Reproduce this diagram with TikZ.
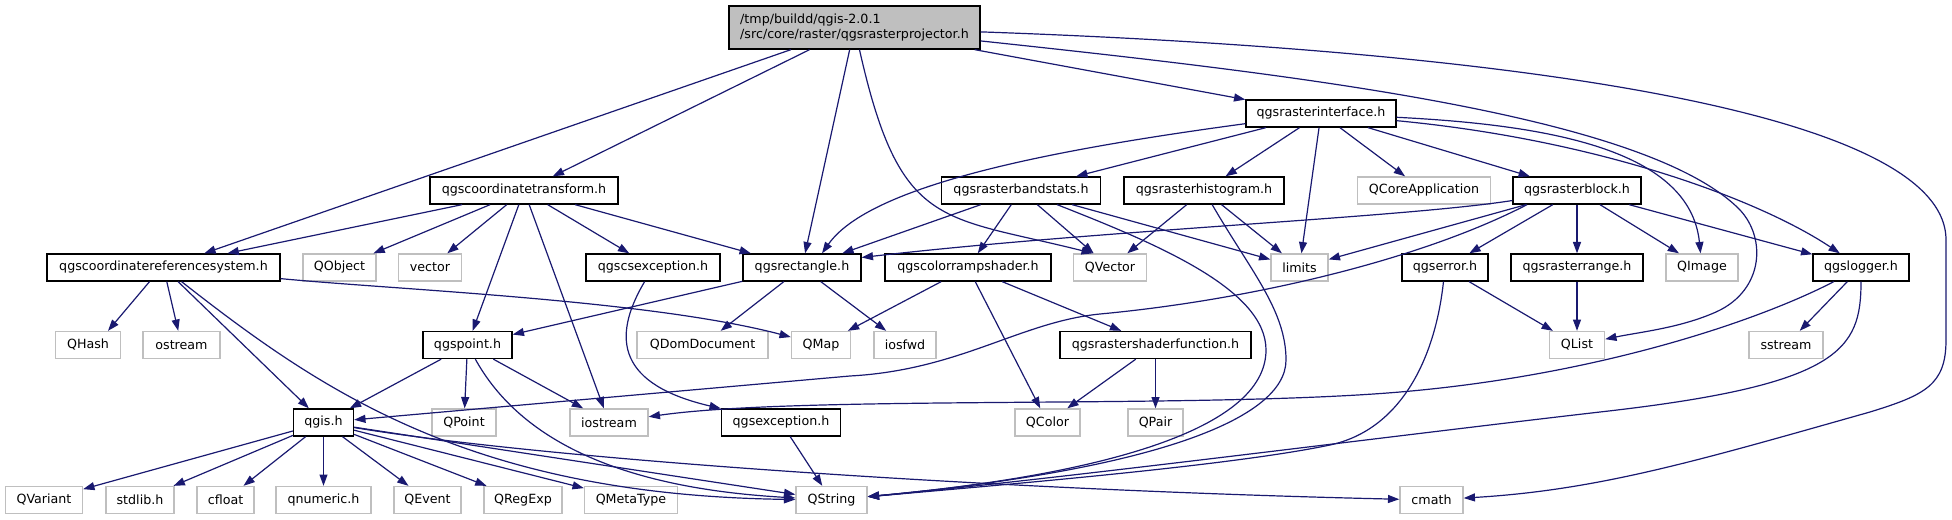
\documentclass[tikz,border=0pt]{standalone}
\usepackage{fontspec}
\setmainfont{DejaVu Sans}
\usetikzlibrary{arrows.meta,calc}
\definecolor{edgeblue}{HTML}{191970}
\definecolor{boxgray}{HTML}{BFBFBF}
\begin{document}
\begin{tikzpicture}[x=0.75pt,y=-0.75pt,
  every node/.style={font=\fontsize{9.5pt}{11.25pt}\selectfont, inner sep=0pt, minimum height=20.25pt, line width=1pt},
  blk/.style={draw=black, fill=white},
  gry/.style={draw=boxgray, fill=white},
  bw/.style={minimum width=#1*0.75pt},
  dep/.style={draw=edgeblue, line width=0.9pt, -{Triangle[length=8.5pt,width=6pt]}}
]
\useasboundingbox (0,0) rectangle (1952,520);

% rank 0
\node[blk, fill=boxgray, bw=251, minimum height=32.25pt, align=left] (root) at (854.5,27.5) {/tmp/buildd/qgis-2.0.1\\/src/core/raster/qgsrasterprojector.h};
% rank 1
\node[blk, bw=150] (rif) at (1321,113.5) {qgsrasterinterface.h};
% rank 2
\node[blk, bw=188] (ct) at (524,190.5) {qgscoordinatetransform.h};
\node[blk, bw=158.5] (bs) at (1021,190.5) {qgsrasterbandstats.h};
\node[blk, bw=160] (hist) at (1204,190.5) {qgsrasterhistogram.h};
\node[gry, bw=133] (QCore) at (1424,190.5) {QCoreApplication};
\node[blk, bw=128] (rblock) at (1577,190.5) {qgsrasterblock.h};
% rank 3
\node[blk, bw=233] (crs) at (163.5,267.5) {qgscoordinatereferencesystem.h};
\node[gry, bw=73] (QObject) at (339.5,267.5) {QObject};
\node[gry, bw=63] (vector) at (430,267.5) {vector};
\node[blk, bw=134] (csx) at (653,267.5) {qgscsexception.h};
\node[blk, bw=118] (rect) at (802,267.5) {qgsrectangle.h};
\node[blk, bw=166] (cramp) at (968,267.5) {qgscolorrampshader.h};
\node[gry, bw=73] (QVector) at (1110,267.5) {QVector};
\node[gry, bw=57] (limits) at (1299.5,267.5) {limits};
\node[blk, bw=86] (qerr) at (1445,267.5) {qgserror.h};
\node[blk, bw=132] (rrange) at (1577,267.5) {qgsrasterrange.h};
\node[gry, bw=72] (QImage) at (1702,267.5) {QImage};
\node[blk, bw=96] (logger) at (1861,267.5) {qgslogger.h};
% rank 4
\node[gry, bw=65] (QHash) at (88,345) {QHash};
\node[gry, bw=77] (ostream) at (181.5,345) {ostream};
\node[blk, bw=89] (qgspoint) at (467.5,345) {qgspoint.h};
\node[gry, bw=131] (QDom) at (702.5,345) {QDomDocument};
\node[gry, bw=59] (QMap) at (821,345) {QMap};
\node[gry, bw=62] (iosfwd) at (905,345) {iosfwd};
\node[blk, bw=191] (shader) at (1155.5,345) {qgsrastershaderfunction.h};
\node[gry, bw=55] (QList) at (1577,345) {QList};
\node[gry, bw=74] (sstream) at (1786,345) {sstream};
% rank 5
\node[blk, bw=60] (qgis) at (323.5,422.5) {qgis.h};
\node[gry, bw=64] (QPoint) at (464,422.5) {QPoint};
\node[gry, bw=78] (iostream) at (609,422.5) {iostream};
\node[blk, bw=119] (qexc) at (781,422.5) {qgsexception.h};
\node[gry, bw=65] (QColor) at (1047.5,422.5) {QColor};
\node[gry, bw=55] (QPair) at (1155.5,422.5) {QPair};
% rank 6
\node[gry, bw=77] (QVariant) at (44,500) {QVariant};
\node[gry, bw=68] (stdlib) at (140,500) {stdlib.h};
\node[gry, bw=57] (cfloat) at (225.6,500) {cfloat};
\node[gry, bw=95] (qnumeric) at (323.5,500) {qnumeric.h};
\node[gry, bw=67] (QEvent) at (427.5,500) {QEvent};
\node[gry, bw=78] (QRegExp) at (523,500) {QRegExp};
\node[gry, bw=93] (QMetaType) at (631,500) {QMetaType};
\node[gry, bw=71] (QString) at (831.5,500) {QString};
\node[gry, bw=63] (cmath) at (1431.5,500) {cmath};

% root
\draw[dep] (root) -- (rif);
\draw[dep] (root) -- (ct);
\draw[dep] (root) -- (crs);
\draw[dep] (root) -- (rect);
\draw[dep] (root) .. controls (900,230) and (940,215) .. ($(QVector.north west)+(20,0)$);
\draw[dep] (root) .. controls (1300,75) and (1640,115) .. (1737,207) .. controls (1767,235) and (1765,290) .. (1716,312) .. controls (1680,328) and (1640,332) .. (QList);
\draw[dep] (root) .. controls (1500,50) and (1946,110) .. (1946,240) -- (1946,340) .. controls (1946,385) and (1925,395) .. (1870,412) .. controls (1700,460) and (1600,490) .. (cmath);

% qgsrasterinterface.h
\draw[dep] (rif) .. controls (1050,150) and (870,185) .. ($(rect.north)+(20,0)$);
\draw[dep] (rif) -- (bs);
\draw[dep] (rif) -- (hist);
\draw[dep] (rif) -- (limits);
\draw[dep] (rif) -- (QCore);
\draw[dep] (rif) -- (rblock);
\draw[dep] (rif) .. controls (1550,125) and (1690,150) .. (QImage);
\draw[dep] (rif) .. controls (1600,140) and (1760,200) .. (logger);

% qgscoordinatetransform.h
\draw[dep] ($(ct.south)+(-62,0)$) -- ($(crs.north)+(64,0)$);
\draw[dep] (ct) -- (QObject);
\draw[dep] (ct) -- (vector);
\draw[dep] (ct) -- (qgspoint);
\draw[dep] (ct) -- (iostream);
\draw[dep] (ct) -- (csx);
\draw[dep] (ct) -- (rect);

% qgscoordinatereferencesystem.h
\draw[dep] ($(crs.south)+(-14,0)$) -- ($(QHash.north)+(20,0)$);
\draw[dep] (crs) -- (ostream);
\draw[dep] (crs) -- (qgis);
\draw[dep] (crs) .. controls (320,390) and (470,495) .. (QString);
\draw[dep] (crs) .. controls (400,290) and (650,300) .. (QMap);

% qgscsexception.h
\draw[dep] (csx) .. controls (610,340) and (620,385) .. (qexc);

% qgsrectangle.h
\draw[dep] (rect) -- (qgspoint);
\draw[dep] (rect) -- (QDom);
\draw[dep] (rect) -- (iosfwd);

% qgspoint.h
\draw[dep] (qgspoint) -- (qgis);
\draw[dep] (qgspoint) -- (QPoint);
\draw[dep] (qgspoint) -- (iostream);
\draw[dep] (qgspoint) .. controls (520,440) and (620,488) .. (QString);

% qgis.h
\draw[dep] (qgis) -- (QVariant);
\draw[dep] (qgis) -- (stdlib);
\draw[dep] (qgis) -- (cfloat);
\draw[dep] (qgis) -- (qnumeric);
\draw[dep] (qgis) -- (QEvent);
\draw[dep] (qgis) -- (QRegExp);
\draw[dep] (qgis) -- (QMetaType);
\draw[dep] (qgis) -- (QString);
\draw[dep] (qgis) .. controls (550,460) and (1000,490) .. (cmath);

% qgsexception.h
\draw[dep] (qexc) -- (QString);

% qgsrasterbandstats.h
\draw[dep] (bs) -- (rect);
\draw[dep] (bs) -- (cramp);
\draw[dep] (bs) -- (QVector);
\draw[dep] (bs) -- (limits);
\draw[dep] (bs) .. controls (1160,245) and (1266,290) .. (1266,350) .. controls (1266,430) and (1100,475) .. (QString);

% qgsrasterhistogram.h
\draw[dep] (hist) -- (QVector);
\draw[dep] (hist) -- (limits);
\draw[dep] (hist) .. controls (1250,270) and (1286,310) .. (1286,360) .. controls (1286,420) and (1150,470) .. (QString);

% qgscolorrampshader.h
\draw[dep] (cramp) -- (QMap);
\draw[dep] (cramp) -- (QColor);
\draw[dep] (cramp) -- (shader);

% qgsrastershaderfunction.h
\draw[dep] (shader) -- (QColor);
\draw[dep] (shader) -- (QPair);

% qgsrasterblock.h
\draw[dep] (rblock) .. controls (1400,218) and (1100,230) .. ($(rect.east)+(0,-10)$);
\draw[dep] (rblock) -- (limits);
\draw[dep] ($(rblock.south)+(-50,0)$) .. controls (1420,260) and (1250,300) .. (1100,314) .. controls (1020,322) and (960,370) .. (850,376) -- (qgis);
\draw[dep] (rblock) -- (qerr);
\draw[dep] (rblock) -- (rrange);
\draw[dep] (rblock) -- (QImage);
\draw[dep] (rblock) -- (logger);

% qgserror.h
\draw[dep] (qerr) -- (QList);
\draw[dep] (qerr) .. controls (1435,360) and (1400,430) .. (1330,445) .. controls (1230,466) and (1000,485) .. (QString);

% qgsrasterrange.h
\draw[dep] (rrange) -- (QList);

% qgslogger.h
\draw[dep] (logger) -- (sstream);
\draw[dep] (logger) .. controls (1760,320) and (1600,375) .. (1400,392) .. controls (1200,409) and (800,395) .. (iostream);
\draw[dep] (logger) .. controls (1861,350) and (1840,385) .. (1600,412) .. controls (1400,435) and (1050,480) .. (QString);
\end{tikzpicture}
\end{document}
